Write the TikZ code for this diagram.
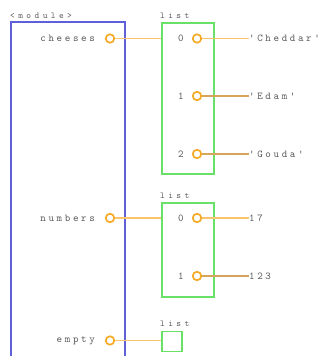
\documentclass[tikz,border=0pt]{standalone}
\usepackage{fontspec}
\newfontfamily\vmono[LetterSpace=25]{lmmono10-regular.otf}
\newfontfamily\vsmall[LetterSpace=38]{lmmono10-regular.otf}
\begin{document}
\begin{tikzpicture}[x=1pt,y=-1pt,
  txt/.style={font=\vmono\fontsize{10.5}{10.5}\selectfont,text=black!65,inner sep=0pt},
  ttl/.style={font=\vsmall\fontsize{9}{9}\selectfont,text=black!65,inner sep=0pt,anchor=base west},
  modbox/.style={draw={rgb,255:red,95;green,95;blue,215},line width=1.7pt},
  lstbox/.style={draw={rgb,255:red,105;green,225;blue,105},line width=1.9pt},
  port/.style={circle,draw={rgb,255:red,245;green,170;blue,40},fill=white,line width=1.7pt,minimum size=8.5pt,inner sep=0pt},
  wire/.style={draw={rgb,255:red,250;green,195;blue,110},line width=1.5pt},
  wired/.style={draw={rgb,255:red,215;green,165;blue,90},line width=1.5pt}]
\clip (0,0) rectangle (326,356);
\fill[white] (0,0) rectangle (326,356);
% module frame
\draw[modbox] (11,380) -- (11,22) -- (125,22) -- (125,380);
\node[ttl] (modt) at (10,18) {<module>};
% list boxes
\node[lstbox,minimum width=52pt,minimum height=151pt,inner sep=0pt,anchor=north west] (l1) at (161,22) {};
\node[ttl] (l1t) at (160,18) {list};
\node[lstbox,minimum width=52pt,minimum height=94pt,inner sep=0pt,anchor=north west] (l2) at (161,202) {};
\node[ttl] (l2t) at (160,198) {list};
\node[lstbox,minimum width=20pt,minimum height=20pt,inner sep=0pt,anchor=north west] (l3) at (161,330.5) {};
\node[ttl] (l3t) at (160,326.5) {list};
% module variables
\node[txt,anchor=east] (vc) at (95,38.5) {cheeses};
\node[port] (pc) at (110,38.5) {};
\node[txt,anchor=east] (vn) at (95,218) {numbers};
\node[port] (pn) at (110,218) {};
\node[txt,anchor=east] (ve) at (95,340.5) {empty};
\node[port] (pe) at (110,340.5) {};
\coordinate (c1) at (161,38.5);
\coordinate (c2) at (161,218);
\coordinate (c3) at (161,340.5);
\draw[wire] (pc) -- (c1);
\draw[wire] (pn) -- (c2);
\draw[wire] (pe) -- (c3);
% list 1 items
\node[txt] (i10) at (181,38.5) {0};
\node[port] (p10) at (197,38.5) {};
\node[txt,anchor=west] (s10) at (249,38.5) {'Cheddar'};
\node[txt] (i11) at (181,96) {1};
\node[port] (p11) at (197,96) {};
\node[txt,anchor=west] (s11) at (249,96) {'Edam'};
\node[txt] (i12) at (181,154) {2};
\node[port] (p12) at (197,154) {};
\node[txt,anchor=west] (s12) at (249,154) {'Gouda'};
\draw[wire] (p10) -- (s10);
\draw[wired] (p11) -- (s11);
\draw[wired] (p12) -- (s12);
% list 2 items
\node[txt] (i20) at (181,218) {0};
\node[port] (p20) at (197,218) {};
\node[txt,anchor=west] (s20) at (249,218) {17};
\node[txt] (i21) at (181,276) {1};
\node[port] (p21) at (197,276) {};
\node[txt,anchor=west] (s21) at (249,276) {123};
\draw[wire] (p20) -- (s20);
\draw[wired] (p21) -- (s21);
\end{tikzpicture}
\end{document}
